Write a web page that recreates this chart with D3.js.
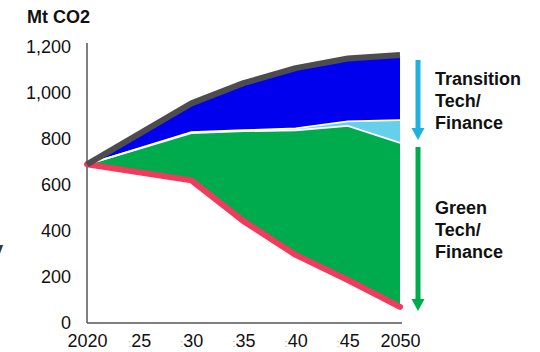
<!DOCTYPE html>
<html>
<head>
<meta charset="utf-8">
<script src="https://cdn.jsdelivr.net/npm/d3@7"></script>
<style>
  html, body { margin: 0; padding: 0; background: #fff; }
  svg { display: block; font-family: "Liberation Sans", Arial, sans-serif; }
</style>
</head>
<body>
<svg id="chart" width="540" height="352"></svg>
<script>
// ---- data ----
const years = [2020, 2030, 2035, 2040, 2045, 2050];
const residual = [690, 620, 443, 296, 187, 70];      // red line / bottom of green
const greenTech = [0, 206, 391, 542, 670, 713];      // green area
const transitionLight = [0, 4, 4, 8, 20, 99];        // light blue area
const transitionTech = [0, 125, 205, 262, 273, 283]; // blue area
const tickYears = [2020, 2025, 2030, 2035, 2040, 2045, 2050];
const tickYearLabels = ["2020", "25", "30", "35", "40", "45", "2050"];
const yTicks = [0, 200, 400, 600, 800, 1000, 1200];
const unitLabel = "Mt CO2";
const transitionText = ["Transition", "Tech/", "Finance"];
const greenText = ["Green", "Tech/", "Finance"];

const svg = d3.select("#chart");
const x = d3.scaleLinear().domain([2020, 2050]).range([87, 400]);
const y = d3.scaleLinear().domain([0, 1200]).range([323, 47]);

const rows = years.map((yr, i) => ({
  year: yr, residual: residual[i], green: greenTech[i],
  light: transitionLight[i], blue: transitionTech[i]
}));
const stack = d3.stack().keys(["residual", "green", "light", "blue"]);
const series = stack(rows);
const colors = { green: "#00ab4e", light: "#66cfea", blue: "#0000ee" };

const area = d3.area().x(d => x(d.data.year)).y0(d => y(d[0])).y1(d => y(d[1]));
["green", "light", "blue"].forEach(k => {
  const s = series.find(s => s.key === k);
  svg.append("path").datum(s).attr("d", area).attr("fill", colors[k]);
});
// white separator lines between stacked areas
const line = d3.line().x(d => x(d.data.year)).y(d => y(d[1]));
["green", "light"].forEach(k => {
  const s = series.find(s => s.key === k);
  svg.append("path").datum(s).attr("d", line)
    .attr("fill", "none").attr("stroke", "#fff").attr("stroke-width", 1.8);
});

// axes
const yAxis = d3.axisLeft(y).tickValues(yTicks).tickSize(0).tickPadding(16)
  .tickFormat(d3.format(","));
const gy = svg.append("g").attr("transform", "translate(87,0)").call(yAxis);
gy.select(".domain").remove();
gy.selectAll("text").attr("font-size", 18).attr("fill", "#111")
  .attr("font-family", "'Liberation Sans', Arial, sans-serif");

const xAxis = d3.axisBottom(x).tickValues(tickYears).tickSize(0).tickPadding(11)
  .tickFormat((d, i) => tickYearLabels[i]);
const gx = svg.append("g").attr("transform", "translate(0,323)").call(xAxis);
gx.select(".domain").remove();
gx.selectAll("text").attr("font-size", 18).attr("fill", "#111")
  .attr("font-family", "'Liberation Sans', Arial, sans-serif")
  .each(function(d, i) {
    if (i > 0 && i < tickYears.length - 1) {
      const t = d3.select(this);
      const lbl = t.text();
      t.text("");
      t.append("tspan").attr("fill", "#e3a46a").attr("font-size", 11).text(":");
      t.append("tspan").text(lbl);
    }
  });

svg.append("line").attr("x1", 87).attr("x2", 87).attr("y1", 43).attr("y2", 323)
  .attr("stroke", "#555").attr("stroke-width", 1.5);
svg.append("line").attr("x1", 87).attr("x2", 402).attr("y1", 323).attr("y2", 323)
  .attr("stroke", "#555").attr("stroke-width", 1.5);

// red residual line
const redLine = d3.line().x((d, i) => x(years[i])).y(d => y(d));
svg.append("path").datum(residual).attr("d", redLine)
  .attr("fill", "none").attr("stroke", "#f23a5c").attr("stroke-width", 6)
  .attr("stroke-linejoin", "round").attr("stroke-linecap", "round");

// gray total line
const totals = rows.map(r => r.residual + r.green + r.light + r.blue);
svg.append("path").datum(totals).attr("d", redLine)
  .attr("fill", "none").attr("stroke", "#4d4d4d").attr("stroke-width", 6)
  .attr("stroke-linejoin", "round").attr("stroke-linecap", "butt");

// unit label
svg.append("text").attr("x", 27).attr("y", 23).attr("font-size", 18)
  .attr("font-weight", "bold").attr("fill", "#111").text(unitLabel);

// cut-off glyph at left edge
svg.append("text").attr("x", -8).attr("y", 256).attr("font-size", 20)
  .attr("font-weight", "bold").attr("fill", "#333").text("y");

// arrows
function arrow(x0, y0, y1, color) {
  svg.append("line").attr("x1", x0).attr("x2", x0).attr("y1", y0).attr("y2", y1 - 10)
    .attr("stroke", color).attr("stroke-width", 5);
  svg.append("path").attr("d", `M${x0 - 6.5},${y1 - 12}L${x0 + 6.5},${y1 - 12}L${x0},${y1}Z`)
    .attr("fill", color);
}
arrow(418, 60, 140, "#1fb1e0");
arrow(418, 147, 311, "#00ab4e");

function block(lines, x0, yc) {
  lines.forEach((t, i) => {
    svg.append("text").attr("x", x0).attr("y", yc + i * 22).attr("dy", "0.35em")
      .attr("font-size", 18).attr("font-weight", "bold").attr("fill", "#111").text(t);
  });
}
block(transitionText, 435, 79);
block(greenText, 435, 208);
</script>
</body>
</html>
